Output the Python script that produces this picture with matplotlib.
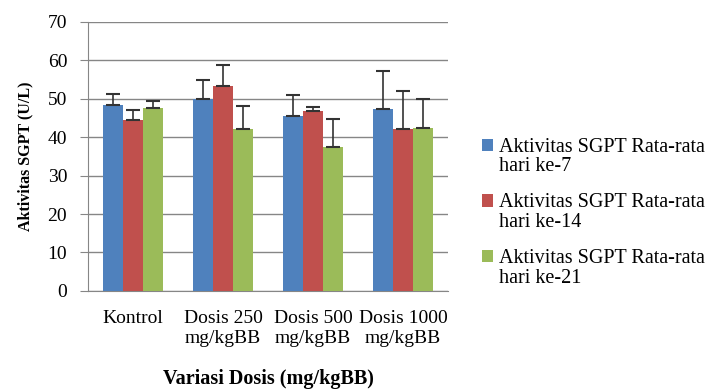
import numpy as np
import matplotlib.pyplot as plt
from matplotlib.container import BarContainer
from matplotlib.legend_handler import HandlerPatch, update_from_first_child

# data
kategori = ["Kontrol", "Dosis 250\nmg/kgBB", "Dosis 500\nmg/kgBB", "Dosis 1000\nmg/kgBB"]
hari7 = [48.4, 50.0, 45.5, 47.2]
hari14 = [44.5, 53.3, 46.8, 42.2]
hari21 = [47.5, 42.2, 37.5, 42.5]
sd7 = [2.9, 4.8, 5.4, 10.0]
sd14 = [2.6, 5.4, 1.0, 9.9]
sd21 = [1.9, 6.0, 7.2, 7.3]
label_seri = ["Aktivitas SGPT Rata-rata\nhari ke-7",
              "Aktivitas SGPT Rata-rata\nhari ke-14",
              "Aktivitas SGPT Rata-rata\nhari ke-21"]
warna = ["#4F81BD", "#C0504D", "#9BBB59"]

plt.rcParams['font.family'] = ['Liberation Serif', 'DejaVu Serif']


def kotak_atas(legend, orig_handle, xdescent, ydescent, width, height, fontsize):
    # square marker moved up next to the first text line
    return plt.Rectangle((-xdescent, -ydescent + 0.6 * fontsize), width, height)


fig = plt.figure(figsize=(7.07, 3.90), dpi=100)
ax = fig.add_axes([0.1245, 0.254, 0.5095, 0.69])

x = np.arange(len(kategori))
w = 0.222
for i, (vals, sd) in enumerate([(hari7, sd7), (hari14, sd14), (hari21, sd21)]):
    pos = x + (i - 1) * w
    ax.bar(pos, vals, width=w, color=warna[i], label=label_seri[i], zorder=3)
    ax.errorbar(pos, vals, yerr=[np.zeros(len(sd)), sd], fmt='none',
                ecolor='#333333', elinewidth=1.2, capsize=5, capthick=1.5, zorder=4)

ax.set_xlim(-0.5, len(kategori) - 0.5)
ax.set_ylim(0, 70)
ax.set_yticks(range(0, 71, 10))
ax.yaxis.grid(True, color='#868686', linewidth=1, zorder=0)
ax.set_xticks(x)
ax.set_xticklabels(kategori, fontsize=14)
ax.tick_params(axis='x', length=0, pad=14)
ax.tick_params(axis='y', labelsize=14, length=6, color='#868686', pad=9)

for s in ['top', 'right']:
    ax.spines[s].set_visible(False)
for s in ['left', 'bottom']:
    ax.spines[s].set_color('#868686')

ax.set_ylabel("Aktivitas SGPT (U/L)", fontsize=11.5, fontweight='bold', labelpad=10)
ax.set_xlabel("Variasi Dosis (mg/kgBB)", fontsize=14.5, fontweight='bold', labelpad=16)

leg = ax.legend(loc='upper left', bbox_to_anchor=(1.07, 0.6), frameon=False,
                fontsize=14.5, handlelength=0.55, handleheight=0.55, handletextpad=0.3,
                labelspacing=0.85, borderaxespad=0,
                handler_map={BarContainer: HandlerPatch(patch_func=kotak_atas,
                                                        update_func=update_from_first_child)})
for t in leg.get_texts():
    t.set_linespacing(1.05)

fig.savefig("out.png", dpi=100)
